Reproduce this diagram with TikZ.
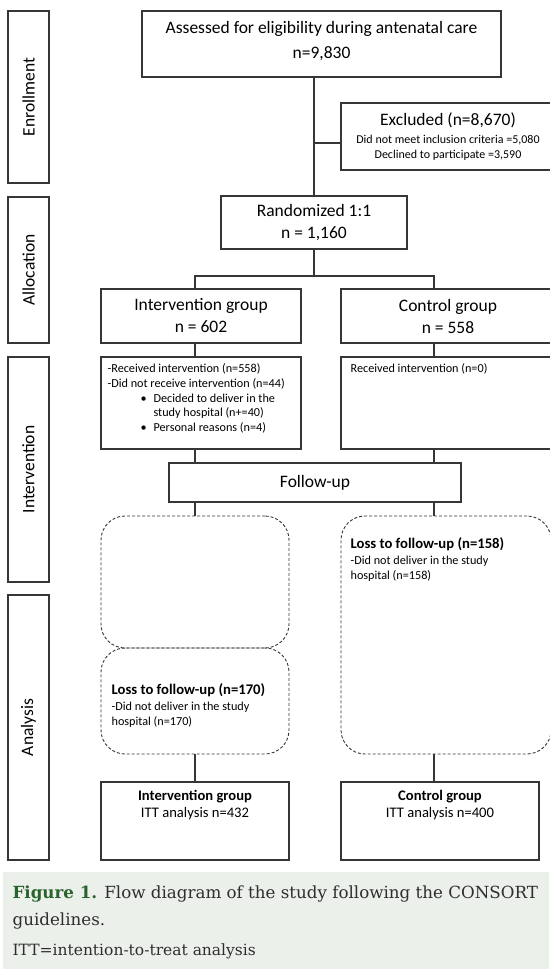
\documentclass[tikz,border=0pt]{standalone}
\usepackage{fontspec}
\setmainfont{Carlito}
\newfontfamily\capfont{DejaVu Serif}
\usetikzlibrary{positioning}
\definecolor{ink}{HTML}{363636}
\definecolor{capbg}{HTML}{EBF0EB}
\definecolor{figgreen}{HTML}{2A632C}
\definecolor{captext}{HTML}{2E2E2E}
\newcommand\bul{\hspace*{33pt}\makebox[13pt][l]{\textbullet}}

\begin{document}
\begin{tikzpicture}[x=1pt, y=-1pt, color=ink, text=black, line width=1.2pt,
    phase/.style={draw, rotate=90, minimum height=41pt, inner sep=0pt, font=\fontsize{17.5}{21}\selectfont},
    stage/.style={draw, align=center, inner sep=0pt, font=\fontsize{17.5}{25}\selectfont},
    frame/.style={draw, inner sep=0pt},
    loss/.style={draw, dash pattern=on 3pt off 2pt, line width=0.9pt, rounded corners=24pt, inner sep=0pt},
    note/.style={align=left, inner sep=0pt, font=\fontsize{12.2}{14.8}\selectfont},
    final/.style={align=center, inner sep=0pt, font=\fontsize{14.6}{17}\selectfont},
    link/.style={draw, line width=1.2pt}]
  \useasboundingbox (0,0) rectangle (549,969);

  % phase labels on the left
  \node[phase, minimum width=172pt] (enr) at (28.5,97) {Enrollment};
  \node[phase, minimum width=146pt] (alloc) at (28.5,270) {Allocation};
  \node[phase, minimum width=225pt] (intv) at (28.5,469.5) {Intervention};
  \node[phase, minimum width=265pt] (anal) at (28.5,727.5) {Analysis};

  % enrollment and allocation
  \node[stage, minimum width=359pt, minimum height=66pt, text depth=8pt] (assess) at (321.5,44) {Assessed for eligibility during antenatal care\\n=9,830};
  \node[stage, minimum width=214pt, minimum height=67pt, font=\fontsize{17.5}{19}\selectfont] (excl) at (448,136.5)
    {Excluded (n=8,670)\\[-1pt]{\fontsize{12}{15}\selectfont Did not meet inclusion criteria =5,080}\\[-4pt]{\fontsize{12}{15}\selectfont Declined to participate =3,590}};
  \node[stage, minimum width=186pt, minimum height=53pt, font=\fontsize{17.5}{22}\selectfont] (rand) at (314,222.5) {Randomized 1:1\\n = 1,160};
  \node[stage, minimum width=200pt, minimum height=54pt, font=\fontsize{17.5}{22}\selectfont] (grpI) at (201,316) {Intervention group\\n = 602};
  \node[stage, minimum width=214pt, minimum height=54pt, font=\fontsize{17.5}{22}\selectfont] (grpC) at (448,316) {Control group\\n = 558};

  % intervention
  \node[frame, minimum width=200pt, minimum height=92pt] (detI) at (201,403) {};
  \node[frame, minimum width=214pt, minimum height=92pt] (detC) at (448,403) {};
  \node[note, anchor=north west] (detItxt) at (107,363) {-Received intervention (n=558)\\-Did not receive intervention (n=44)\\\bul Decided to deliver in the\\\hspace*{46pt}study hospital (n+=40)\\\bul Personal reasons (n=4)};
  \node[note, anchor=north west] (detCtxt) at (350,363) {Received intervention (n=0)};
  \node[stage, minimum width=292pt, minimum height=39pt] (fu) at (315,482.5) {Follow-up};

  % loss to follow-up
  \node[loss, minimum width=188pt, minimum height=132pt] (lossA) at (195,582) {};
  \node[loss, minimum width=188pt, minimum height=106pt] (lossI) at (195,701) {};
  \node[loss, minimum width=210pt, minimum height=238pt] (lossC) at (446,635) {};
  \node[note, anchor=north west] (lossItxt) at (111,682.5) {{\bfseries\fontsize{14.7}{16}\selectfont Loss to follow-up (n=170)}\\[1.5pt]-Did not deliver in the study\\hospital (n=170)};
  \node[note, anchor=north west] (lossCtxt) at (350,536.5) {{\bfseries\fontsize{14.7}{16}\selectfont Loss to follow-up (n=158)}\\[1.5pt]-Did not deliver in the study\\hospital (n=158)};

  % analysis
  \node[frame, minimum width=188pt, minimum height=78pt] (finI) at (195,821) {};
  \node[frame, minimum width=198pt, minimum height=78pt] (finC) at (440,821) {};
  \node[final, anchor=north] (finItxt) at (195,790) {\textbf{Intervention group}\\ITT analysis n=432};
  \node[final, anchor=north] (finCtxt) at (440,790) {\textbf{Control group}\\ITT analysis n=400};

  % connectors
  \coordinate (xj) at (314,143);
  \coordinate (bL) at (195,276);
  \coordinate (bR) at (434,276);
  \draw[link] (assess.south -| rand.north) -- (rand.north);
  \draw[link] (xj) -- (xj -| excl.west);
  \draw[link] (rand.south) |- (bL) -- (bL |- grpI.north);
  \draw[link] (bL) -- (bR) -- (bR |- grpC.north);
  \foreach \a/\b in {grpI/detI, detI/fu, fu/lossA, lossI/finI}
    \draw[link] (\a.south -| bL) -- (\b.north -| bL);
  \foreach \a/\b in {grpC/detC, detC/fu, fu/lossC, lossC/finC}
    \draw[link] (\a.south -| bR) -- (\b.north -| bR);

  % caption
  \fill[capbg] (3,872) rectangle (549,969);
  \node[anchor=north west, align=left, inner sep=0pt, text=captext, font=\capfont\fontsize{16.7}{27}\selectfont] (cap) at (12,885.5)
    {{\color{figgreen}\bfseries Figure 1.} Flow diagram of the study following the CONSORT\\guidelines.};
  \node[anchor=north west, inner sep=0pt, text=captext, font=\capfont\fontsize{15.5}{18}\selectfont] (itt) at (12,943) {ITT=intention-to-treat analysis};
\end{tikzpicture}
\end{document}
